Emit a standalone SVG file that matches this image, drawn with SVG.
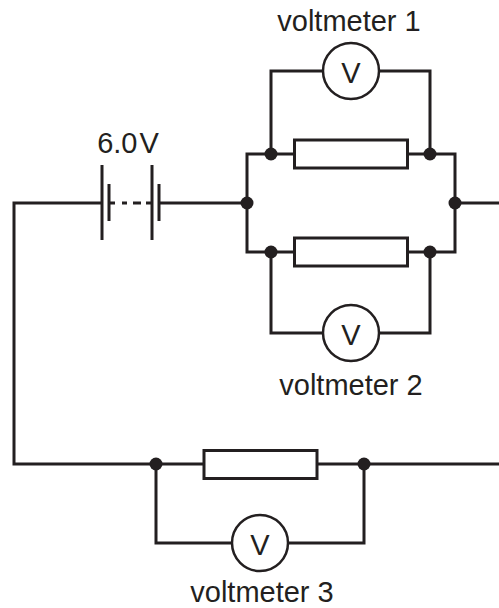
<svg xmlns="http://www.w3.org/2000/svg" width="499" height="608" viewBox="0 0 499 608">
<style>
.w{fill:none;stroke:#231f20;stroke-width:3;stroke-linejoin:miter}
.c{fill:#fff;stroke:#231f20;stroke-width:2.5}
.r{fill:#fff;stroke:#231f20;stroke-width:3}
.d{fill:#231f20}
.t{font-family:"Liberation Sans",Arial,sans-serif;font-size:29px;fill:#231f20;text-anchor:middle}
.b{stroke:#231f20;stroke-width:3;fill:none}
</style>
<rect width="499" height="608" fill="#fff"/>
<g id="connectors">
<path class="w" d="M102 203H14V464H204M317 464H499"/>
<path class="w" d="M159 203H247M455 203H499"/>
<path class="w" d="M110 203H115M122 203H127M133 203H141M146 203H152"/>
<path class="w" d="M294 154H247V252H294M407 154H455V252H407"/>
<path class="w" d="M271 154V71H323M379 71H430V154"/>
<path class="w" d="M271 252V333H323M379 333H430V252"/>
<path class="w" d="M156 464V543H232M288 543H364V464"/>
</g>
<g id="battery">
<path class="b" d="M102 165V240M109 184V221M152 165V240M159 184V221"/>
<text class="t" x="128" y="153">6.0<tspan dx="2">V</tspan></text>
</g>
<g id="junctions">
<circle class="d" cx="247" cy="203" r="6.5"/>
<circle class="d" cx="455" cy="203" r="6.5"/>
<circle class="d" cx="271" cy="154" r="6.5"/>
<circle class="d" cx="430" cy="154" r="6.5"/>
<circle class="d" cx="271" cy="252" r="6.5"/>
<circle class="d" cx="430" cy="252" r="6.5"/>
<circle class="d" cx="156" cy="464" r="6.5"/>
<circle class="d" cx="364" cy="464" r="6.5"/>
</g>
<g id="resistor1"><rect class="r" x="294.500" y="140" width="113" height="28"/></g>
<g id="resistor2"><rect class="r" x="294.500" y="238" width="113" height="28"/></g>
<g id="resistor3"><rect class="r" x="204" y="450.500" width="113" height="28"/></g>
<g id="voltmeter1">
<circle class="c" cx="351" cy="71" r="28"/>
<text class="t" x="351" y="83">V</text>
<text class="t" x="349" y="31">voltmeter 1</text>
</g>
<g id="voltmeter2">
<circle class="c" cx="351" cy="333" r="28"/>
<text class="t" x="351" y="345">V</text>
<text class="t" x="351" y="395">voltmeter 2</text>
</g>
<g id="voltmeter3">
<circle class="c" cx="260" cy="543" r="28"/>
<text class="t" x="260" y="555">V</text>
<text class="t" x="262" y="602">voltmeter 3</text>
</g>
</svg>
